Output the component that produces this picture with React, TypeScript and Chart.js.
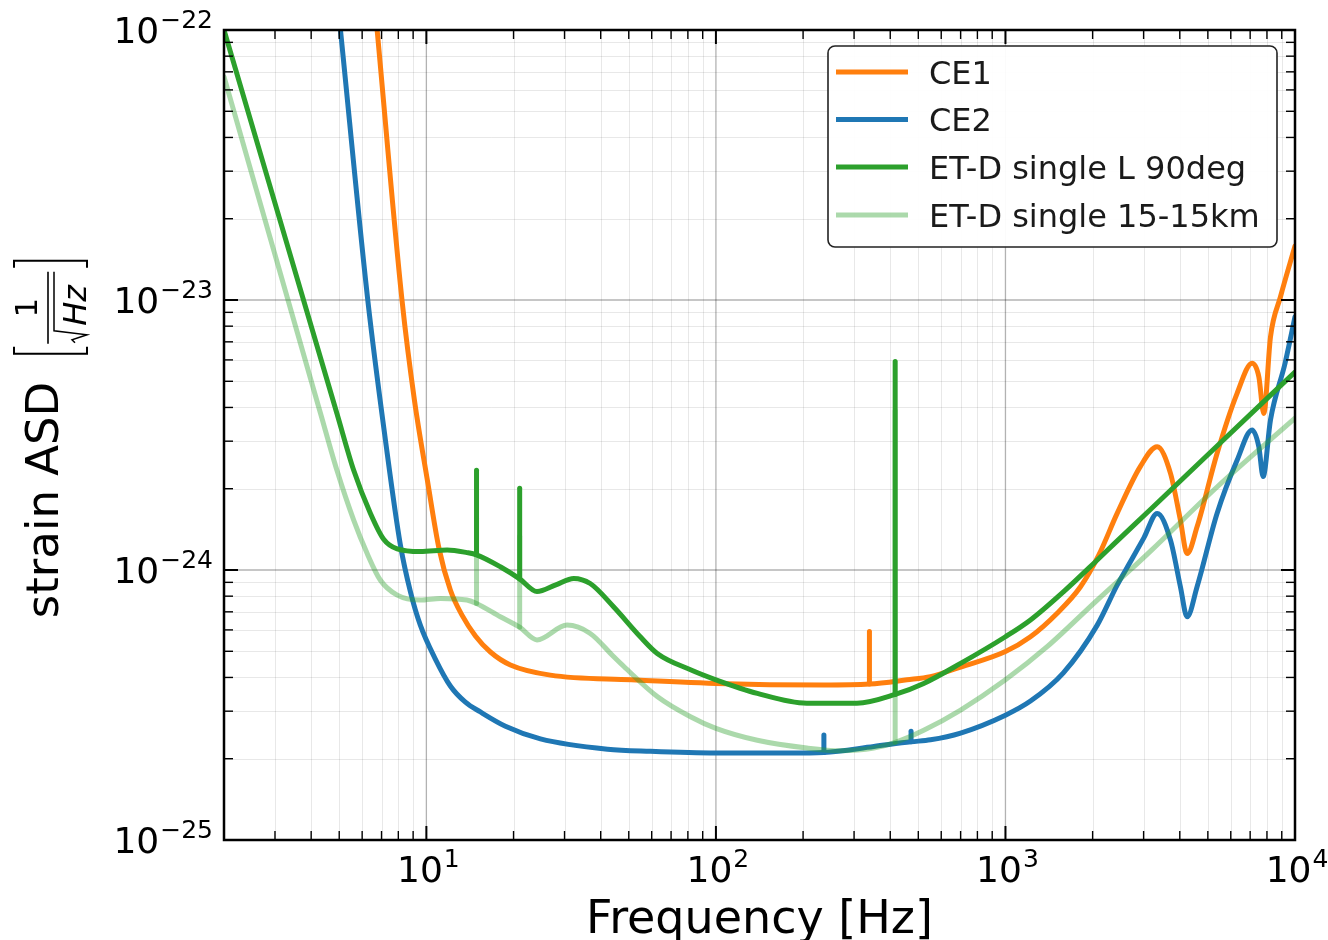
import React, { useEffect, useRef } from "react";
import { Chart, registerables } from "chart.js";

Chart.register(...registerables);

// ---------------- data ----------------
// smooth noise curves (narrow spectral lines kept separately below)
const CE1_FREQ = [6.76, 8.244, 9.09, 10.08, 11.05, 12.1, 13.32, 14.77, 16.64, 19.51, 26.8, 51.1, 100, 235, 339, 457, 551, 700, 1000, 1220, 1509, 1816, 2100, 2431, 2925, 3342, 3715, 4020, 4240, 4590, 5380, 6310, 7110, 7500, 7800, 8230, 8910, 10000];
const CE1_ASD = [1.0e-22, 9.91e-24, 4.27e-24, 2.15e-24, 1.205e-24, 8.43e-25, 6.76e-25, 5.7e-25, 4.97e-25, 4.45e-25, 4.08e-25, 3.92e-25, 3.8e-25, 3.75e-25, 3.78e-25, 3.92e-25, 4.03e-25, 4.37e-25, 4.99e-25, 5.66e-25, 6.92e-25, 8.67e-25, 1.135e-24, 1.62e-24, 2.42e-24, 2.86e-24, 2.28e-24, 1.53e-24, 1.15e-24, 1.445e-24, 2.7e-24, 4.51e-24, 5.83e-24, 5.2e-24, 3.8e-24, 7.31e-24, 1.028e-23, 1.585e-23];

const CE2_FREQ = [5.05, 6.28, 7.22, 8.13, 8.81, 9.53, 10.74, 12.1, 13.64, 15.37, 18.75, 24.77, 42.2, 59.4, 100, 180, 236, 351, 472, 551, 700, 1000, 1220, 1585, 2075, 2431, 2698, 3006, 3342, 3715, 4020, 4240, 4590, 5380, 6310, 7110, 7500, 7760, 8230, 9240, 10000];
const CE2_ASD = [1.0e-22, 9.91e-24, 3.03e-24, 1.24e-24, 8.3e-25, 6.25e-25, 4.68e-25, 3.72e-25, 3.24e-25, 2.98e-25, 2.64e-25, 2.37e-25, 2.17e-25, 2.13e-25, 2.1e-25, 2.1e-25, 2.11e-25, 2.22e-25, 2.31e-25, 2.35e-25, 2.49e-25, 2.9e-25, 3.27e-25, 4.16e-25, 6.25e-25, 8.79e-25, 1.07e-24, 1.315e-24, 1.62e-24, 1.29e-24, 8.67e-25, 6.71e-25, 8.67e-25, 1.62e-24, 2.55e-24, 3.3e-24, 2.86e-24, 2.22e-24, 3.6e-24, 5.83e-24, 8.67e-24];

const ETL_FREQ = [2, 4.91, 5.61, 6.41, 7.12, 7.93, 9.53, 11.8, 13.8, 14.9, 18.0, 21.0, 24.1, 28, 32.3, 36.8, 44.3, 54.8, 62.7, 81.7, 100, 139, 206, 307, 416, 522, 700, 1000, 1220, 1585, 2075, 2367, 3180, 5380, 10000];
const ETL_ASD = [1.0e-22, 3.8e-24, 2.34e-24, 1.62e-24, 1.3e-24, 1.197e-24, 1.17e-24, 1.186e-24, 1.16e-24, 1.138e-24, 1.028e-24, 9.27e-25, 8.32e-25, 8.81e-25, 9.31e-25, 8.91e-25, 7.31e-25, 5.66e-25, 4.91e-25, 4.27e-25, 3.92e-25, 3.49e-25, 3.21e-25, 3.21e-25, 3.46e-25, 3.8e-25, 4.51e-25, 5.66e-25, 6.53e-25, 8.3e-25, 1.089e-24, 1.247e-24, 1.683e-24, 2.88e-24, 5.41e-24];

const ET15_FREQ = [2, 4.31, 4.91, 5.61, 6.24, 6.93, 7.93, 9.53, 11.2, 13.8, 14.9, 18.0, 21.0, 24.1, 30.6, 36.8, 44.3, 48.1, 62.7, 81.7, 100, 139, 206, 269, 351, 416, 522, 700, 1000, 1393, 2075, 2698, 3170, 5380, 10000];
const ET15_ASD = [6.71e-23, 3.8e-24, 2.34e-24, 1.53e-24, 1.153e-24, 9.18e-25, 8.07e-25, 7.74e-25, 7.85e-25, 7.74e-25, 7.52e-25, 6.71e-25, 6.14e-25, 5.51e-25, 6.25e-25, 5.82e-25, 4.78e-25, 4.39e-25, 3.4e-25, 2.86e-25, 2.59e-25, 2.34e-25, 2.19e-25, 2.14e-25, 2.19e-25, 2.3e-25, 2.55e-25, 3.03e-25, 3.92e-25, 5.2e-25, 7.74e-25, 1.0e-24, 1.175e-24, 2.03e-24, 3.65e-24];

// narrow spectral lines: frequency, value at the curve, value at the tip
const CE1_SPIKE_FREQ = [339];
const CE1_SPIKE_BASE = [3.78e-25];
const CE1_SPIKE_TOP = [5.92e-25];
const CE2_SPIKE_FREQ = [236, 472];
const CE2_SPIKE_BASE = [2.11e-25, 2.31e-25];
const CE2_SPIKE_TOP = [2.45e-25, 2.53e-25];
const ETL_SPIKE_FREQ = [14.9, 21.0, 416];
const ETL_SPIKE_BASE = [1.138e-24, 9.27e-25, 3.46e-25];
const ETL_SPIKE_TOP = [2.34e-24, 2.01e-24, 5.92e-24];
const ET15_SPIKE_FREQ = [14.9, 21.0, 416];
const ET15_SPIKE_BASE = [7.52e-25, 6.14e-25, 2.3e-25];
const ET15_SPIKE_TOP = [1.55e-24, 1.33e-24, 3.89e-24];

const SERIES_LABELS = ["CE1", "CE2", "ET-D single L 90deg", "ET-D single 15-15km"];
const SERIES_COLORS = ["#ff7f0e", "#1f77b4", "#2ca02c", "rgba(44,160,44,0.4)"];

const X_MIN = 2;
const X_MAX = 10000;
const Y_MIN = 1e-25;
const Y_MAX = 1e-22;
const X_MAJOR = [10, 100, 1000, 10000];
const X_MAJOR_EXP = ["1", "2", "3", "4"];
const Y_MAJOR = [1e-22, 1e-23, 1e-24, 1e-25];
const Y_MAJOR_EXP = ["\u221222", "\u221223", "\u221224", "\u221225"];
const X_TITLE = "Frequency [Hz]";
const Y_TITLE = "strain ASD";

const FONT = '"DejaVu Sans", sans-serif';

function minorTicks(min: number, max: number): number[] {
  const out: number[] = [];
  const e0 = Math.floor(Math.log10(min));
  const e1 = Math.ceil(Math.log10(max));
  for (let e = e0; e <= e1; e++) {
    for (let m = 2; m <= 9; m++) {
      const v = m * Math.pow(10, e);
      if (v >= min * 0.999 && v <= max * 1.001) out.push(v);
    }
  }
  return out;
}

function drawPow(ctx: CanvasRenderingContext2D, exp: string, x: number, baseline: number, align: "right" | "center") {
  ctx.font = `36px ${FONT}`;
  const wb = ctx.measureText("10").width;
  ctx.font = `25px ${FONT}`;
  const ws = ctx.measureText(exp).width;
  const total = wb + ws + 1;
  const start = align === "right" ? x - total : x - total / 2;
  ctx.textAlign = "left";
  ctx.textBaseline = "alphabetic";
  ctx.fillStyle = "#000";
  ctx.font = `36px ${FONT}`;
  ctx.fillText("10", start, baseline);
  ctx.font = `25px ${FONT}`;
  ctx.fillText(exp, start + wb + 1, baseline - 15);
}

const mplPlugin = {
  id: "mplDecor",
  beforeDatasetsDraw(chart: any) {
    const { ctx, chartArea: a, scales } = chart;
    const xs = scales.x;
    const ys = scales.y;
    ctx.save();
    ctx.lineWidth = 1;
    ctx.strokeStyle = "rgba(0,0,0,0.09)";
    for (const v of minorTicks(X_MIN, X_MAX)) {
      const px = Math.round(xs.getPixelForValue(v)) + 0.5;
      ctx.beginPath(); ctx.moveTo(px, a.top); ctx.lineTo(px, a.bottom); ctx.stroke();
    }
    for (const v of minorTicks(Y_MIN, Y_MAX)) {
      const py = Math.round(ys.getPixelForValue(v)) + 0.5;
      ctx.beginPath(); ctx.moveTo(a.left, py); ctx.lineTo(a.right, py); ctx.stroke();
    }
    ctx.lineWidth = 1.3;
    ctx.strokeStyle = "rgba(0,0,0,0.3)";
    for (const v of X_MAJOR) {
      const px = xs.getPixelForValue(v);
      ctx.beginPath(); ctx.moveTo(px, a.top); ctx.lineTo(px, a.bottom); ctx.stroke();
    }
    for (const v of Y_MAJOR) {
      const py = ys.getPixelForValue(v);
      ctx.beginPath(); ctx.moveTo(a.left, py); ctx.lineTo(a.right, py); ctx.stroke();
    }
    ctx.restore();
  },
  afterDatasetsDraw(chart: any) {
    const { ctx, chartArea: a, scales } = chart;
    const xs = scales.x;
    const ys = scales.y;
    ctx.save();
    ctx.strokeStyle = "#000";
    const tick = (len: number, lw: number, xv: number[], yv: number[]) => {
      ctx.lineWidth = lw;
      for (const v of xv) {
        const px = xs.getPixelForValue(v);
        ctx.beginPath(); ctx.moveTo(px, a.bottom); ctx.lineTo(px, a.bottom - len); ctx.stroke();
        ctx.beginPath(); ctx.moveTo(px, a.top); ctx.lineTo(px, a.top + len); ctx.stroke();
      }
      for (const v of yv) {
        const py = ys.getPixelForValue(v);
        ctx.beginPath(); ctx.moveTo(a.left, py); ctx.lineTo(a.left + len, py); ctx.stroke();
        ctx.beginPath(); ctx.moveTo(a.right, py); ctx.lineTo(a.right - len, py); ctx.stroke();
      }
    };
    tick(9, 1.4, minorTicks(X_MIN, X_MAX), minorTicks(Y_MIN, Y_MAX));
    tick(14, 2, X_MAJOR, Y_MAJOR);
    ctx.lineWidth = 2.5;
    ctx.strokeRect(a.left, a.top, a.right - a.left, a.bottom - a.top);
    ctx.restore();
  },
  afterDraw(chart: any) {
    const { ctx, chartArea: a, scales } = chart;
    const xs = scales.x;
    const ys = scales.y;
    ctx.save();
    X_MAJOR.forEach((v, i) => drawPow(ctx, X_MAJOR_EXP[i], xs.getPixelForValue(v) + 2, 882, "center"));
    Y_MAJOR.forEach((v, i) => drawPow(ctx, Y_MAJOR_EXP[i], 213, ys.getPixelForValue(v) + 13, "right"));

    ctx.fillStyle = "#000";
    ctx.font = `46px ${FONT}`;
    ctx.textAlign = "center";
    ctx.textBaseline = "alphabetic";
    ctx.fillText(X_TITLE, (a.left + a.right) / 2, 933);

    // y title, rotated
    ctx.font = `45px ${FONT}`;
    const w = ctx.measureText(Y_TITLE).width;
    const total = w + 124;
    const yStart = 438 + total / 2;
    ctx.translate(58, yStart);
    ctx.rotate(-Math.PI / 2);
    ctx.textAlign = "left";
    ctx.fillText(Y_TITLE, 0, 0);
    const uL = w + 28;
    const uc = w + 74;
    const uR = w + 121;
    ctx.strokeStyle = "#000";
    ctx.lineWidth = 2;
    ctx.beginPath();
    ctx.moveTo(uL + 7, -44); ctx.lineTo(uL, -44); ctx.lineTo(uL, 29); ctx.lineTo(uL + 7, 29);
    ctx.stroke();
    ctx.beginPath();
    ctx.moveTo(uR - 7, -44); ctx.lineTo(uR, -44); ctx.lineTo(uR, 29); ctx.lineTo(uR - 7, 29);
    ctx.stroke();
    ctx.font = `31px ${FONT}`;
    ctx.textAlign = "center";
    ctx.fillText("1", uc, -21);
    ctx.lineWidth = 1.6;
    ctx.beginPath(); ctx.moveTo(uc - 36, -10); ctx.lineTo(uc + 36, -10); ctx.stroke();
    ctx.lineWidth = 1.5;
    ctx.beginPath();
    ctx.moveTo(uc - 35, 17); ctx.lineTo(uc - 32, 14); ctx.lineTo(uc - 27, 29); ctx.lineTo(uc - 23, -4); ctx.lineTo(uc + 36, -4);
    ctx.stroke();
    ctx.font = `italic 32px ${FONT}`;
    ctx.textAlign = "left";
    ctx.fillText("Hz", uc - 18, 28);
    ctx.setTransform(1, 0, 0, 1, 0, 0);

    // legend
    const lx = 828, ly = 46, lw = 449, lh = 201;
    ctx.fillStyle = "rgba(255,255,255,0.95)";
    ctx.strokeStyle = "#222";
    ctx.lineWidth = 1.6;
    ctx.beginPath();
    (ctx as any).roundRect(lx, ly, lw, lh, 7);
    ctx.fill();
    ctx.stroke();
    const rows = [72, 119.5, 167, 215];
    SERIES_LABELS.forEach((label, i) => {
      ctx.strokeStyle = SERIES_COLORS[i];
      ctx.lineWidth = 5;
      ctx.lineCap = "butt";
      ctx.beginPath(); ctx.moveTo(836, rows[i]); ctx.lineTo(908, rows[i]); ctx.stroke();
      ctx.fillStyle = "#1a1a1a";
      ctx.font = `32px ${FONT}`;
      ctx.textAlign = "left";
      ctx.textBaseline = "alphabetic";
      ctx.fillText(label, 929, rows[i] + 11.5);
    });
    ctx.restore();
  },
};

function toPoints(f: number[], v: number[]) {
  return f.map((x, i) => ({ x, y: v[i] }));
}

export default function App() {
  const ref = useRef<HTMLCanvasElement | null>(null);
  useEffect(() => {
    if (!ref.current) return;
    const base = (i: number, order: number) => ({
      borderColor: SERIES_COLORS[i],
      backgroundColor: SERIES_COLORS[i],
      borderWidth: 5,
      pointRadius: 0,
      borderCapStyle: "round" as const,
      borderJoinStyle: "round" as const,
      fill: false,
      clip: 0,
      order,
    });
    const curve = (i: number, f: number[], v: number[], order: number) => ({
      ...base(i, order),
      label: SERIES_LABELS[i],
      data: toPoints(f, v),
      cubicInterpolationMode: "monotone" as const,
    });
    const spikes = (i: number, f: number[], b: number[], t: number[], order: number) =>
      f.map((fx, k) => ({
        ...base(i, order),
        label: SERIES_LABELS[i] + " line " + fx,
        data: [{ x: fx, y: b[k] }, { x: fx, y: t[k] }],
        tension: 0,
      }));
    const chart = new Chart(ref.current, {
      type: "line",
      data: {
        datasets: [
          curve(0, CE1_FREQ, CE1_ASD, 4),
          ...spikes(0, CE1_SPIKE_FREQ, CE1_SPIKE_BASE, CE1_SPIKE_TOP, 4),
          curve(1, CE2_FREQ, CE2_ASD, 3),
          ...spikes(1, CE2_SPIKE_FREQ, CE2_SPIKE_BASE, CE2_SPIKE_TOP, 3),
          curve(2, ETL_FREQ, ETL_ASD, 2),
          ...spikes(2, ETL_SPIKE_FREQ, ETL_SPIKE_BASE, ETL_SPIKE_TOP, 2),
          curve(3, ET15_FREQ, ET15_ASD, 1),
          ...spikes(3, ET15_SPIKE_FREQ, ET15_SPIKE_BASE, ET15_SPIKE_TOP, 1),
        ],
      },
      options: {
        responsive: false,
        animation: false,
        devicePixelRatio: 1,
        layout: { padding: { left: 224, right: 33, top: 30, bottom: 100 } },
        scales: {
          x: { type: "logarithmic", min: X_MIN, max: X_MAX, display: false },
          y: { type: "logarithmic", min: Y_MIN, max: Y_MAX, display: false },
        },
        plugins: { legend: { display: false }, tooltip: { enabled: false } },
      },
      plugins: [mplPlugin],
    });
    return () => chart.destroy();
  }, []);
  return (
    <div style={{ position: "fixed", left: 0, top: 0, width: 1328, height: 940, background: "#fff" }}>
      <canvas ref={ref} width={1328} height={940} style={{ width: 1328, height: 940 }} />
    </div>
  );
}
